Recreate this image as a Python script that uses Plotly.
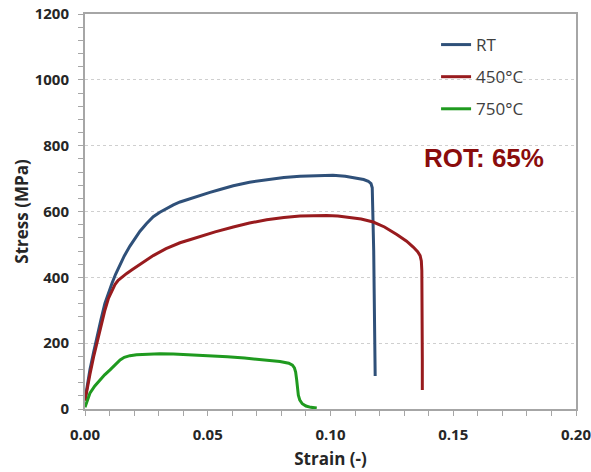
import plotly.graph_objects as go

# Engineering stress-strain curves at three test temperatures
rt_strain = [0, 0.001, 0.002, 0.0035, 0.0048, 0.0065, 0.0081, 0.0095, 0.011, 0.0125,
             0.0143, 0.016, 0.0183, 0.0205, 0.0224, 0.025, 0.0278, 0.0305, 0.0333, 0.036,
             0.0387, 0.043, 0.0468, 0.0509, 0.055, 0.0604, 0.067, 0.074, 0.081, 0.0876,
             0.094, 0.101, 0.106, 0.1106, 0.1135, 0.1154, 0.1165, 0.117, 0.1172, 0.1174,
             0.1176, 0.1178, 0.118, 0.1182]
rt_stress = [28, 75, 119, 172, 220, 272, 321, 352, 382, 410,
             440, 465, 495, 520, 540, 563, 584, 598, 610, 620,
             629, 640, 649, 658, 667, 678, 689, 697, 703, 707,
             709, 710, 707, 702, 697, 692, 685, 672, 620, 540,
             480, 350, 200, 100]

t450_strain = [0, 0.001, 0.002, 0.0035, 0.0048, 0.0065, 0.0081, 0.0095, 0.011, 0.0122,
               0.0135, 0.015, 0.017, 0.019, 0.021, 0.024, 0.0278, 0.033, 0.0387, 0.043,
               0.0468, 0.053, 0.0604, 0.067, 0.074, 0.081, 0.0876, 0.0935, 0.0984, 0.103,
               0.108, 0.1125, 0.1174, 0.122, 0.127, 0.131, 0.1337, 0.1355, 0.1365, 0.137,
               0.1372, 0.1374, 0.1374, 0.1374]
t450_stress = [25, 70, 105, 158, 200, 255, 300, 335, 360, 378,
               391, 401, 412, 422, 432, 448, 466, 487, 505, 515,
               524, 538, 553, 565, 575, 582, 586, 588, 588, 586,
               582, 577, 568, 553, 530, 510, 492, 478, 466, 450,
               420, 300, 150, 58]

t750_strain = [0, 0.001, 0.002, 0.004, 0.0061, 0.008, 0.0102, 0.0122, 0.0143, 0.016,
               0.0183, 0.021, 0.025, 0.0305, 0.036, 0.043, 0.0509, 0.058, 0.065, 0.072,
               0.0794, 0.083, 0.0845, 0.0853, 0.0858, 0.0862, 0.0865, 0.0869, 0.0875, 0.0885,
               0.09, 0.092, 0.0944]
t750_stress = [5, 30, 48, 70, 89, 104, 119, 135, 149, 157,
               162, 165, 167, 168, 167, 165, 162, 159, 155, 150,
               144, 139, 133, 125, 112, 90, 65, 42, 27, 16,
               9, 5, 3]

series = [
    ("RT", rt_strain, rt_stress, "#2f5079"),
    ("450°C", t450_strain, t450_stress, "#981b1e"),
    ("750°C", t750_strain, t750_stress, "#1f9a1f"),
]

fig = go.Figure()
for i, (name, xs, ys, color) in enumerate(series):
    fig.add_trace(go.Scatter(
        x=xs, y=ys, name=name, mode="lines", legendgroup=f"g{i}",
        line=dict(color=color, width=3),
    ))

axis_line = "#a6a6a6"
tick_font = dict(family="Open Sans", size=15, color="#262626", weight="bold")
title_font = dict(family="Open Sans", size=17, color="#262626", weight="bold")

fig.update_xaxes(
    range=[0, 0.2], dtick=0.05, tickformat=".2f", automargin=False,
    showline=True, linecolor=axis_line, linewidth=2, mirror=True,
    ticks="outside", ticklen=5, tickcolor=axis_line, tickwidth=1,
    minor=dict(dtick=0.01, ticks="outside", ticklen=5, tickcolor=axis_line),
    showgrid=False, zeroline=False, tickfont=tick_font,
    ticklabelstandoff=6, ticklabeloverflow="allow",
    title=dict(text="Strain (-)", font=title_font, standoff=10),
)
fig.update_yaxes(
    range=[0, 1200], dtick=200, automargin=False,
    showline=True, linecolor=axis_line, linewidth=2, mirror=True,
    ticks="outside", ticklen=5, tickcolor=axis_line, tickwidth=1,
    minor=dict(dtick=40, ticks="outside", ticklen=5, tickcolor=axis_line),
    showgrid=True, gridcolor="#cfcfcf", griddash="dot", gridwidth=1,
    zeroline=False, tickfont=tick_font,
    ticklabelstandoff=6, ticklabeloverflow="allow",
    title=dict(text="Stress (MPa)", font=title_font, standoff=2),
)

fig.add_annotation(
    x=0.1625, y=763, xref="x", yref="y", text="ROT: 65%", showarrow=False,
    font=dict(family="Liberation Sans", size=26, color="#8a0c0c", weight="bold"),
)

fig.update_layout(
    width=591, height=472,
    margin=dict(l=85, r=15, t=14, b=63),
    plot_bgcolor="white", paper_bgcolor="white",
    legend=dict(
        x=0.715, y=0.967, xanchor="left", yanchor="top",
        font=dict(family="Open Sans", size=17, color="#404040"),
        bgcolor="rgba(0,0,0,0)", tracegroupgap=7,
    ),
)

fig.write_html("out.html")
